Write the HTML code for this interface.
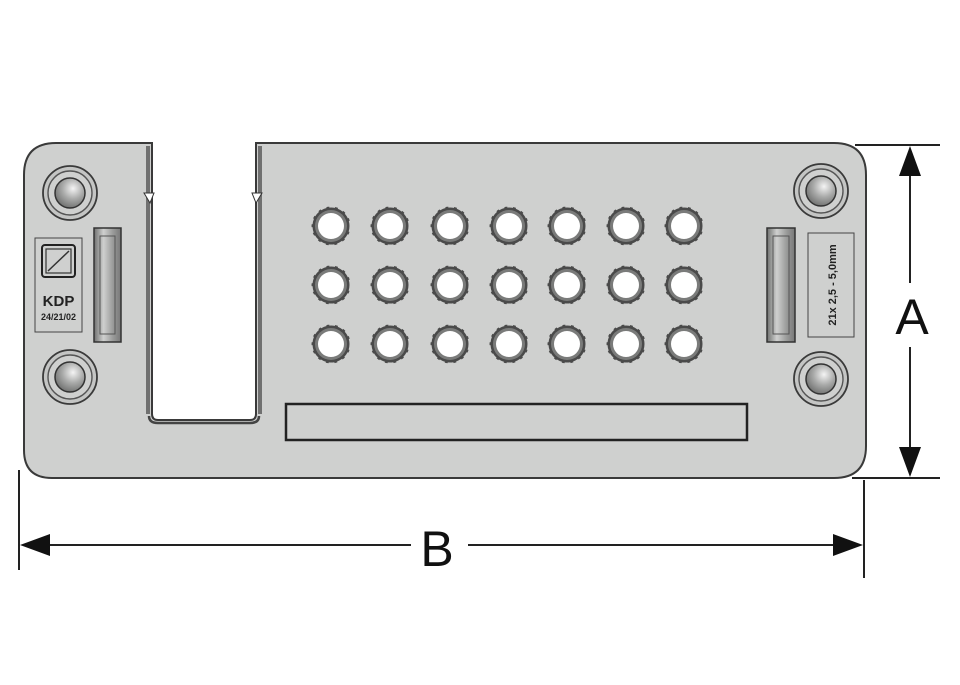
<!DOCTYPE html>
<html><head><meta charset="utf-8"><style>html,body{margin:0;padding:0;background:#fff}svg{display:block}</style></head>
<body>
<svg width="960" height="685" viewBox="0 0 960 685" xmlns="http://www.w3.org/2000/svg" font-family="Liberation Sans, sans-serif">
<defs>
<radialGradient id="bolt" cx="0.6" cy="0.35" r="0.7">
<stop offset="0" stop-color="#f4f4f4"/><stop offset="0.5" stop-color="#a9aaa9"/><stop offset="1" stop-color="#6c6d6c"/>
</radialGradient>
<linearGradient id="slotg" x1="0" x2="1">
<stop offset="0" stop-color="#6e6f6e"/><stop offset="0.35" stop-color="#cfd0cf"/><stop offset="0.7" stop-color="#9a9b9a"/><stop offset="1" stop-color="#777"/>
</linearGradient>
<g id="hole">
<circle r="19.5" fill="#4a4a4a" />
<circle r="19.5" fill="none" stroke="#cfd0cf" stroke-width="2" stroke-dasharray="6 3"/>
<circle r="16" fill="#7a7b7a"/>
<circle r="13" fill="#fff"/>
</g>
<g id="boltg">
<circle r="27" fill="#c4c5c4" stroke="#3a3a3a" stroke-width="1.8"/>
<circle r="22" fill="#cfd0cf" stroke="#555" stroke-width="1.4"/>
<circle r="15" fill="url(#bolt)" stroke="#333" stroke-width="1.5"/>
</g>
</defs>
<!-- plate -->
<path d="M56 143 H152 V414 Q152 420 158 420 H250 Q256 420 256 414 V143 H834 Q866 143 866 175 V446 Q866 478 834 478 H52 Q24 478 24 450 V175 Q24 143 56 143 Z" fill="#cfd0cf" stroke="#3a3a3a" stroke-width="2"/>
<path d="M148 146 V414 M260 146 V414" stroke="#707070" stroke-width="4" fill="none"/>
<path d="M149 416 Q149 423 158 423 H250 Q259 423 259 416" stroke="#444" stroke-width="2.5" fill="none"/>
<path d="M144 193 L154 193 L150 203 Z M252 193 L262 193 L256 203 Z" fill="#fff" stroke="#333" stroke-width="1"/>
<!-- bolts -->
<use href="#boltg" x="70" y="193"/>
<use href="#boltg" x="70" y="377"/>
<use href="#boltg" x="821" y="191"/>
<use href="#boltg" x="821" y="379"/>
<!-- slots -->
<rect x="94" y="228" width="27" height="114" fill="url(#slotg)" stroke="#333" stroke-width="1.5"/>
<rect x="100" y="236" width="15" height="98" fill="none" stroke="#555" stroke-width="1"/>
<rect x="767" y="228" width="28" height="114" fill="url(#slotg)" stroke="#333" stroke-width="1.5"/>
<rect x="773" y="236" width="16" height="98" fill="none" stroke="#555" stroke-width="1"/>
<!-- left label -->
<rect x="35" y="238" width="47" height="94" fill="none" stroke="#444" stroke-width="1"/>
<rect x="42" y="245" width="33" height="32" rx="3" fill="none" stroke="#222" stroke-width="2"/>
<rect x="46" y="249" width="25" height="24" fill="none" stroke="#333" stroke-width="1.2"/>
<line x1="48" y1="271" x2="69" y2="251" stroke="#333" stroke-width="1.5"/>
<text x="58.5" y="306" font-size="15" font-weight="bold" text-anchor="middle" fill="#222">KDP</text>
<text x="58.5" y="320" font-size="9" font-weight="bold" text-anchor="middle" fill="#222">24/21/02</text>
<!-- right label -->
<rect x="808" y="233" width="46" height="104" fill="none" stroke="#444" stroke-width="1"/>
<text transform="translate(836 285) rotate(-90)" font-size="11" font-weight="bold" text-anchor="middle" fill="#222">21x 2,5 - 5,0mm</text>
<!-- holes -->
<g>
<use href="#hole" x="331" y="226"/><use href="#hole" x="390" y="226"/><use href="#hole" x="450" y="226"/><use href="#hole" x="509" y="226"/><use href="#hole" x="567" y="226"/><use href="#hole" x="626" y="226"/><use href="#hole" x="684" y="226"/>
<use href="#hole" x="331" y="285"/><use href="#hole" x="390" y="285"/><use href="#hole" x="450" y="285"/><use href="#hole" x="509" y="285"/><use href="#hole" x="567" y="285"/><use href="#hole" x="626" y="285"/><use href="#hole" x="684" y="285"/>
<use href="#hole" x="331" y="344"/><use href="#hole" x="390" y="344"/><use href="#hole" x="450" y="344"/><use href="#hole" x="509" y="344"/><use href="#hole" x="567" y="344"/><use href="#hole" x="626" y="344"/><use href="#hole" x="684" y="344"/>
</g>
<!-- bottom bar -->
<rect x="286" y="404" width="461" height="36" fill="#cfd0cf" stroke="#222" stroke-width="2.5"/>
<!-- dimension A -->
<line x1="855" y1="145" x2="940" y2="145" stroke="#222" stroke-width="2"/>
<line x1="852" y1="478" x2="940" y2="478" stroke="#222" stroke-width="2"/>
<line x1="910" y1="170" x2="910" y2="283" stroke="#222" stroke-width="2"/>
<line x1="910" y1="347" x2="910" y2="455" stroke="#222" stroke-width="2"/>
<path d="M910 146 L899 176 L921 176 Z M910 477 L899 447 L921 447 Z" fill="#111"/>
<text x="912" y="334" font-size="50" text-anchor="middle" fill="#111">A</text>
<!-- dimension B -->
<line x1="19" y1="470" x2="19" y2="570" stroke="#222" stroke-width="2"/>
<line x1="864" y1="480" x2="864" y2="578" stroke="#222" stroke-width="2"/>
<line x1="40" y1="545" x2="411" y2="545" stroke="#222" stroke-width="2"/>
<line x1="468" y1="545" x2="840" y2="545" stroke="#222" stroke-width="2"/>
<path d="M20 545 L50 534 L50 556 Z M863 545 L833 534 L833 556 Z" fill="#111"/>
<text x="437" y="566" font-size="50" text-anchor="middle" fill="#111">B</text>
</svg>
</body></html>
